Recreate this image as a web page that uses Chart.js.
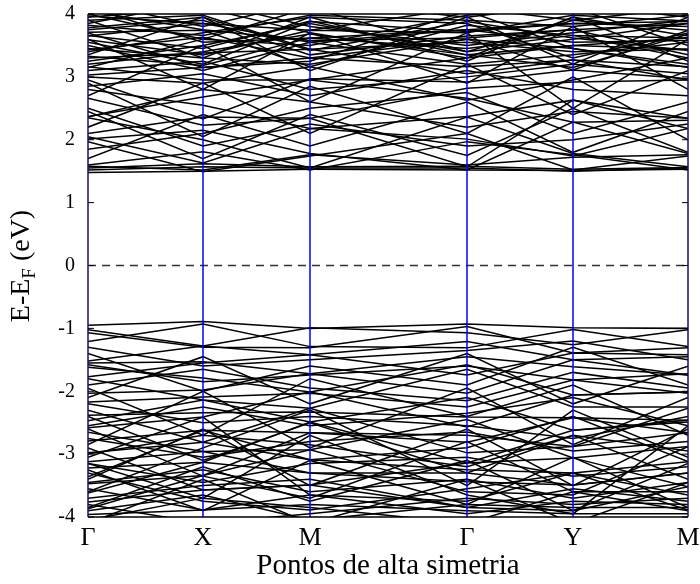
<!DOCTYPE html>
<html>
<head>
<meta charset="utf-8">
<script src="https://cdn.jsdelivr.net/npm/chart.js@4.4.1/dist/chart.umd.min.js"></script>
<style>
    html, body { margin: 0; padding: 0; background: #fff; }
</style>
</head>
<body>
<canvas id="bandChart" width="700" height="584"></canvas>
<script>
// caminho no espaço k (distância acumulada) e rótulos dos pontos de alta simetria
const kPath = [0, 115, 222, 379, 485, 600]
const kLabels = ['Γ', 'X', 'M', 'Γ', 'Y', 'M']
const yTicks = [-4, -3, -2, -1, 0, 1, 2, 3, 4]

// energias (eV) em Γ, X, M, Γ, Y, M
const conductionBands = [
    [1.48, 1.50, 1.53, 1.52, 1.51, 1.53],
    [1.52, 1.57, 1.55, 1.55, 1.50, 1.55],
    [1.55, 1.62, 1.57, 1.58, 1.53, 1.56],
    [1.58, 1.52, 1.76, 1.60, 1.72, 1.76],
    [1.60, 1.81, 1.52, 1.97, 1.76, 1.52],
    [1.97, 1.49, 1.74, 2.10, 1.52, 1.74],
    [2.01, 2.15, 1.78, 1.52, 2.28, 1.78],
    [2.05, 1.63, 2.18, 2.01, 1.74, 2.18],
    [2.10, 2.36, 2.34, 1.57, 2.63, 2.34],
    [2.35, 2.00, 1.55, 2.36, 1.78, 1.57],
    [2.37, 2.68, 2.95, 2.66, 2.28, 2.31],
    [2.66, 2.23, 2.34, 2.82, 2.92, 2.95],
    [2.80, 2.55, 2.18, 2.37, 2.63, 2.18],
    [2.95, 2.33, 2.97, 2.92, 3.11, 2.97],
    [3.00, 2.90, 3.16, 2.63, 2.95, 3.30],
    [3.03, 3.15, 3.30, 3.16, 3.27, 3.16],
    [3.16, 2.95, 2.95, 3.30, 3.50, 3.44],
    [3.30, 3.38, 3.44, 3.05, 3.27, 2.95],
    [3.33, 3.18, 3.62, 3.45, 3.66, 3.62],
    [3.43, 3.63, 3.30, 3.60, 3.11, 3.74],
    [3.59, 3.35, 3.74, 3.70, 3.98, 3.89],
    [3.66, 3.45, 3.89, 3.35, 3.50, 3.62],
    [3.71, 3.74, 3.16, 3.82, 3.66, 3.30],
    [3.82, 3.66, 3.98, 3.90, 3.80, 3.98],
    [3.90, 3.98, 3.44, 3.55, 3.40, 3.44],
    [3.97, 3.85, 3.74, 4.10, 3.90, 3.74],
    [4.10, 3.55, 3.62, 3.75, 3.85, 3.80],
    [2.36, 2.80, 2.60, 2.20, 2.45, 2.34],
    [1.85, 2.10, 2.50, 2.75, 2.10, 2.60],
    [2.50, 1.90, 2.25, 1.90, 2.00, 2.25],
    [3.10, 3.25, 2.80, 3.00, 3.20, 3.05],
    [3.50, 3.10, 3.55, 3.20, 3.35, 3.55],
    [3.75, 3.90, 3.35, 3.65, 3.75, 3.35],
    [3.25, 3.50, 3.85, 3.40, 3.60, 3.85],
    [4.20, 3.80, 4.20, 3.95, 4.15, 3.95],
    [3.40, 3.70, 3.95, 3.85, 3.30, 3.70],
    [2.85, 3.05, 2.70, 3.10, 2.80, 2.70],
    [3.85, 4.20, 3.80, 3.50, 3.70, 3.90],
    [4.00, 3.60, 3.50, 3.98, 4.10, 3.50],
    [3.95, 4.10, 3.70, 3.30, 3.95, 3.65],
    [3.45, 3.30, 3.20, 3.60, 3.45, 3.20],
    [3.65, 3.85, 3.55, 3.75, 3.55, 3.58],
    [3.20, 3.40, 3.68, 3.35, 3.15, 3.68],
    [3.55, 3.20, 3.88, 3.72, 3.85, 3.88],
    [3.78, 3.95, 3.42, 3.88, 3.62, 3.42],
    [4.05, 3.75, 3.58, 3.62, 3.75, 3.85],
    [2.20, 2.90, 2.10, 3.20, 2.40, 3.10],
    [2.90, 2.05, 2.85, 2.10, 3.00, 2.00],
    [3.60, 2.80, 3.70, 2.90, 3.80, 2.80],
    [2.70, 3.50, 2.60, 3.70, 2.50, 3.60],
    [3.35, 3.95, 3.10, 3.95, 3.20, 3.95],
    [3.90, 3.30, 3.95, 3.25, 3.95, 3.25],
    [1.70, 2.40, 1.90, 2.60, 1.80, 2.45],
    [2.45, 1.70, 2.40, 1.75, 2.50, 1.80],
    [3.15, 3.60, 4.10, 3.40, 3.90, 4.10],
    [3.70, 3.15, 3.25, 4.05, 3.45, 3.15],
]

const valenceBands = [
    [-0.95, -0.89, -1.00, -0.93, -0.99, -1.00],
    [-1.02, -1.28, -0.99, -1.07, -1.26, -1.02],
    [-1.07, -1.30, -1.31, -0.97, -1.39, -1.31],
    [-1.21, -0.93, -1.29, -1.31, -1.02, -1.29],
    [-1.52, -1.28, -1.42, -1.21, -1.50, -1.45],
    [-1.55, -1.53, -1.72, -1.45, -1.61, -1.74],
    [-1.58, -1.85, -1.74, -1.60, -1.82, -1.72],
    [-1.77, -1.55, -1.42, -1.74, -1.39, -1.42],
    [-1.62, -1.79, -2.01, -1.58, -2.06, -2.01],
    [-2.03, -1.98, -1.72, -2.03, -1.50, -1.74],
    [-2.17, -2.09, -2.03, -2.25, -1.82, -2.03],
    [-1.80, -2.14, -2.27, -1.65, -2.25, -2.25],
    [-2.38, -2.34, -2.33, -2.41, -2.42, -2.46],
    [-2.47, -2.14, -2.49, -2.10, -2.62, -2.49],
    [-2.58, -2.41, -2.01, -2.57, -2.06, -2.01],
    [-2.79, -2.62, -2.66, -2.81, -2.42, -2.66],
    [-2.98, -2.81, -2.27, -2.98, -2.88, -2.27],
    [-3.12, -2.96, -2.93, -2.45, -3.06, -2.88],
    [-3.22, -3.13, -2.49, -3.14, -2.62, -2.46],
    [-3.36, -2.62, -3.09, -3.25, -3.30, -3.12],
    [-3.47, -3.34, -2.66, -2.70, -2.88, -2.66],
    [-3.62, -3.13, -3.30, -3.44, -3.49, -3.30],
    [-3.76, -3.57, -3.49, -3.14, -3.06, -3.52],
    [-3.87, -3.34, -2.93, -3.60, -3.65, -2.88],
    [-3.96, -3.89, -3.65, -3.75, -3.30, -3.65],
    [-2.30, -2.81, -3.09, -2.90, -2.40, -3.12],
    [-2.65, -2.96, -3.30, -3.30, -3.49, -3.30],
    [-2.90, -3.57, -3.49, -3.85, -3.90, -3.52],
    [-3.05, -2.41, -3.65, -3.95, -3.75, -3.80],
    [-3.30, -3.75, -3.89, -3.55, -3.30, -3.89],
    [-3.55, -3.89, -3.80, -3.90, -3.95, -3.95],
    [-3.80, -4.10, -3.95, -3.70, -3.80, -3.70],
    [-4.05, -3.70, -3.85, -4.10, -3.60, -3.60],
    [-1.30, -1.60, -1.50, -1.35, -1.20, -1.50],
    [-1.90, -1.65, -1.95, -2.15, -1.70, -1.95],
    [-2.55, -2.25, -2.55, -2.35, -2.10, -2.55],
    [-2.75, -3.05, -2.80, -2.65, -2.95, -2.80],
    [-3.15, -3.45, -3.15, -3.05, -3.35, -3.20],
    [-3.45, -3.25, -3.60, -3.40, -3.70, -3.45],
    [-3.70, -3.50, -3.40, -3.85, -3.55, -3.75],
    [-3.90, -3.65, -4.05, -3.80, -3.85, -3.85],
    [-2.20, -2.50, -2.40, -2.55, -2.75, -2.40],
    [-3.00, -2.70, -2.85, -3.20, -2.70, -2.95],
    [-2.40, -3.10, -2.50, -3.30, -2.70, -3.40],
    [-3.40, -2.60, -3.50, -2.60, -3.50, -2.60],
    [-1.95, -2.70, -1.80, -2.40, -1.90, -2.70],
    [-2.85, -2.00, -2.90, -1.95, -2.85, -2.10],
    [-3.25, -3.90, -3.10, -3.80, -3.05, -3.85],
    [-3.85, -3.20, -3.75, -3.10, -3.90, -3.15],
    [-2.60, -3.35, -3.70, -2.80, -3.60, -3.90],
    [-3.60, -2.90, -2.30, -3.50, -2.30, -3.05],
    [-1.40, -2.00, -1.60, -1.90, -1.30, -1.90],
    [-2.10, -1.45, -2.20, -1.40, -2.20, -1.60],
    [-4.10, -3.40, -4.10, -3.40, -4.10, -3.45],
    [-3.15, -3.70, -2.70, -3.65, -3.95, -2.55],
]

const serif = "'Liberation Serif', 'DejaVu Serif', serif"
const yMin = -4
const yMax = 4

const toPoints = (band) => kPath.map((k, i) => ({ x: k, y: band[i] }))

const bandDatasets = conductionBands.concat(valenceBands).map(band => ({
    data: toPoints(band),
    borderColor: '#000',
    borderWidth: 1.5,
    order: 2,
}))

// linhas verticais nos pontos internos
const symmetryDatasets = kPath.slice(1, -1).map(k => ({
    data: [{ x: k, y: yMin }, { x: k, y: yMax }],
    borderColor: '#0000ff',
    borderWidth: 1.5,
    order: 0,
}))

const fermiDataset = {
    data: [{ x: kPath[0], y: 0 }, { x: kPath[kPath.length - 1], y: 0 }],
    borderColor: '#333',
    borderWidth: 1.3,
    borderDash: [8, 6],
    order: 1,
}

// sem folga automática para os rótulos: a área do gráfico fica fixa
const noAutoPadding = (scale) => {
    scale.paddingLeft = 0
    scale.paddingRight = 0
    scale.paddingTop = 0
    scale.paddingBottom = 0
}

// moldura, marcas internas e título do eixo y (com subscrito)
const framePlugin = {
    id: 'frame',
    afterDatasetsDraw: (chart) => {
        const { ctx, chartArea: a, scales } = chart
        ctx.save()
        ctx.lineWidth = 1.5
        ctx.strokeStyle = '#000'
        ctx.beginPath()
        ctx.moveTo(a.left, a.top)
        ctx.lineTo(a.right, a.top)
        ctx.moveTo(a.left, a.bottom)
        ctx.lineTo(a.right, a.bottom)
        ctx.stroke()
        ctx.strokeStyle = '#14146e'
        ctx.beginPath()
        ctx.moveTo(a.left, a.top)
        ctx.lineTo(a.left, a.bottom)
        ctx.moveTo(a.right, a.top)
        ctx.lineTo(a.right, a.bottom)
        ctx.stroke()
        ctx.strokeStyle = '#000'
        ctx.lineWidth = 1
        ctx.beginPath()
        yTicks.forEach(t => {
            const py = scales.y.getPixelForValue(t)
            ctx.moveTo(a.left, py)
            ctx.lineTo(a.left + 6, py)
            ctx.moveTo(a.right, py)
            ctx.lineTo(a.right - 6, py)
        })
        ctx.stroke()
        ctx.restore()
    },
    afterDraw: (chart) => {
        const ctx = chart.ctx
        const big = '28px ' + serif
        const small = '19px ' + serif
        ctx.save()
        ctx.translate(22, 266)
        ctx.rotate(-Math.PI / 2)
        ctx.fillStyle = '#000'
        ctx.textBaseline = 'middle'
        ctx.textAlign = 'left'
        ctx.font = big
        const w1 = ctx.measureText('E-E').width
        const w3 = ctx.measureText(' (eV)').width
        ctx.font = small
        const w2 = ctx.measureText('F').width
        let x = -(w1 + w2 + w3) / 2
        ctx.font = big
        ctx.fillText('E-E', x, 0)
        x += w1
        ctx.font = small
        ctx.fillText('F', x, 8)
        x += w2
        ctx.font = big
        ctx.fillText(' (eV)', x, 0)
        ctx.restore()
    }
}

new Chart(document.getElementById('bandChart'), {
    type: 'scatter',
    data: {
        datasets: symmetryDatasets.concat([fermiDataset], bandDatasets)
    },
    options: {
        responsive: false,
        animation: false,
        showLine: true,
        layout: { padding: { top: 14, right: 12, left: 0, bottom: 0 } },
        plugins: {
            legend: { display: false },
            tooltip: { enabled: false },
        },
        elements: {
            point: { radius: 0, hoverRadius: 0 },
            line: { tension: 0, fill: false },
        },
        scales: {
            x: {
                type: 'linear',
                min: kPath[0],
                max: kPath[kPath.length - 1],
                grid: { display: false, drawTicks: false },
                border: { display: false },
                afterBuildTicks: (scale) => {
                    scale.ticks = kPath.map(v => ({ value: v }))
                },
                afterFit: (scale) => {
                    scale.height = 67
                    noAutoPadding(scale)
                },
                ticks: {
                    autoSkip: false,
                    maxRotation: 0,
                    padding: 6,
                    color: '#000',
                    font: { family: serif, size: 26 },
                    callback: (value, index) => kLabels[index],
                },
                title: {
                    display: true,
                    text: 'Pontos de alta simetria',
                    color: '#000',
                    font: { family: serif, size: 29 },
                    padding: { top: 0, bottom: 0 },
                },
            },
            y: {
                min: yMin,
                max: yMax,
                grid: { display: false, drawTicks: false },
                border: { display: false },
                afterBuildTicks: (scale) => {
                    scale.ticks = yTicks.map(v => ({ value: v }))
                },
                afterFit: (scale) => {
                    scale.width = 88
                    noAutoPadding(scale)
                },
                ticks: {
                    padding: 13,
                    color: '#000',
                    font: { family: serif, size: 20 },
                },
            },
        },
    },
    plugins: [framePlugin],
})
</script>
</body>
</html>
